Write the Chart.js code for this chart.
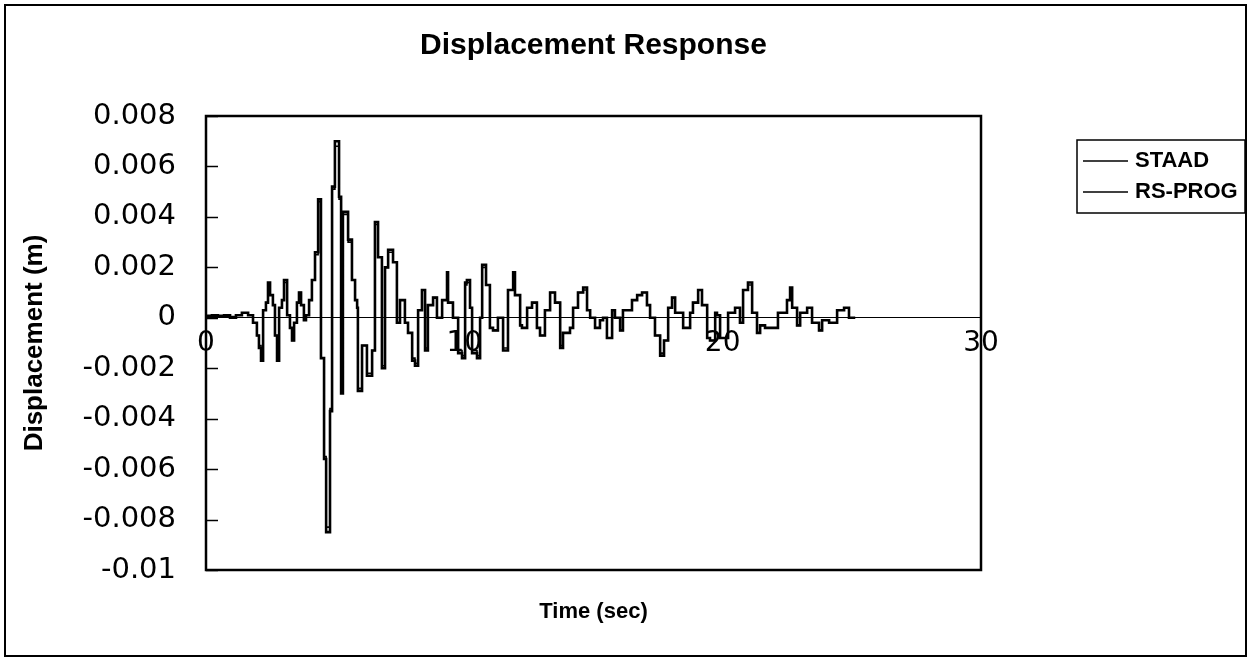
<!DOCTYPE html>
<html><head><meta charset="utf-8">
<script src="https://cdn.jsdelivr.net/npm/chart.js@4"></script>
<style>html,body{margin:0;padding:0;background:#fff;}canvas{display:block;}</style>
</head><body>
<canvas id="c" width="1252" height="661"></canvas>
<script>
const chartTitle = 'Displacement Response';
const xAxisTitle = 'Time (sec)';
const yAxisTitle = 'Displacement (m)';
const seriesNames = ['STAAD', 'RS-PROG'];
const xTickLabels = ['0', '10', '20', '30'];
const yTickLabels = ['-0.01', '-0.008', '-0.006', '-0.004', '-0.002', '0', '0.002', '0.004', '0.006', '0.008'];

const timeSec = [
  0.04,0.23,0.46,0.70,0.93,1.16,1.39,1.63,1.82,1.97,
  2.05,2.13,2.21,2.32,2.40,2.48,2.59,2.67,2.75,2.83,
  2.94,3.02,3.14,3.25,3.33,3.41,3.52,3.60,3.68,3.79,
  3.87,3.99,4.10,4.22,4.34,4.45,4.57,4.65,4.80,4.88,
  4.99,5.15,5.23,5.30,5.50,5.65,5.77,5.85,5.88,6.04,
  6.23,6.43,6.54,6.66,6.81,6.93,7.05,7.24,7.39,7.51,
  7.70,7.82,7.98,8.09,8.21,8.36,8.48,8.59,8.79,8.94,
  9.14,9.33,9.37,9.56,9.76,9.91,10.03,10.10,10.22,10.30,
  10.49,10.61,10.69,10.84,10.99,11.11,11.30,11.50,11.69,11.89,
  11.96,12.16,12.23,12.43,12.62,12.81,12.93,13.12,13.32,13.51,
  13.71,13.82,14.09,14.21,14.40,14.60,14.75,14.87,15.06,15.25,
  15.37,15.52,15.72,15.83,16.03,16.14,16.49,16.69,16.88,17.07,
  17.19,17.38,17.58,17.73,17.89,18.04,18.16,18.47,18.74,18.85,
  19.05,19.20,19.40,19.51,19.71,19.78,19.90,20.21,20.48,20.67,
  20.79,20.98,21.14,21.33,21.45,21.64,21.91,22.14,22.49,22.61,
  22.69,22.88,23.00,23.27,23.46,23.73,23.85,24.12,24.43,24.70,
  24.89,25.13
];

const staad = [
  0.0001,0.00005,0.0001,0.00005,0.0001,0,0.0001,0.0002,0.0001,-0.0002,
  -0.0007,-0.0012,-0.0017,0.0003,0.0006,0.0014,0.0009,0.0005,-0.0007,-0.0017,
  0.0004,0.0007,0.0015,0.0001,-0.0004,-0.0009,-0.0002,0.0006,0.001,0.0005,
  -0.0001,0.0001,0.0007,0.0015,0.0026,0.0047,-0.0016,-0.0056,-0.0085,-0.0037,
  0.0052,0.007,0.0048,-0.003,0.0042,0.0031,0.0015,0.0007,0.0004,-0.0029,
  -0.0011,-0.0023,-0.0013,0.0038,0.0024,-0.002,0.002,0.0027,0.0022,-0.0002,
  0.0007,-0.0002,-0.0006,-0.0017,-0.0019,0.0003,0.0011,-0.0013,0.0005,0.0008,
  0,0.0007,0.0018,0.0006,0,-0.0014,-0.0016,0.0014,0.0015,0.0004,
  -0.0014,-0.0016,0,0.0021,0.0013,-0.0004,-0.0005,0,-0.0013,0.0011,
  0.0018,0.0009,-0.0003,-0.0004,0.0004,0.0006,-0.0004,-0.0007,0.0003,0.001,
  0.0006,-0.0012,-0.0006,-0.0004,0.0004,0.001,0.0012,0.0003,0,-0.0004,
  -0.0001,0,-0.0008,0.0003,0,-0.0005,0.0003,0.0007,0.0009,0.001,
  0.0005,0,-0.0007,-0.0015,-0.0009,0.0004,0.0008,0.0002,-0.0004,0.0002,
  0.0006,0.0011,0.0005,-0.0008,-0.0009,0.0002,0.0001,-0.0008,0.0002,0.0004,
  -0.0002,0.0011,0.0014,0.0002,-0.0006,-0.0003,-0.0004,-0.0004,0.0002,0.0007,
  0.0012,0.0004,-0.0003,0.0002,0.0004,-0.0002,-0.0005,-0.0001,-0.0002,0.0003,
  0.0004,0
];

const rsProg = [
  0.0001,0.0001,0.00005,0.0001,0.00005,0.00005,0.0001,0.0002,0.0001,-0.0002,
  -0.0007,-0.0011,-0.0016,0.0003,0.0006,0.0013,0.0009,0.0005,-0.0007,-0.0016,
  0.0004,0.0007,0.0014,0.0001,-0.0004,-0.0009,-0.0002,0.0006,0.001,0.0005,
  -0.0001,0.0001,0.0007,0.0015,0.0025,0.0046,-0.0016,-0.0055,-0.0083,-0.0036,
  0.0051,0.0068,0.0047,-0.0029,0.0041,0.003,0.0015,0.0007,0.0004,-0.0028,
  -0.0011,-0.0022,-0.0013,0.0037,0.0024,-0.0019,0.002,0.0026,0.0022,-0.0002,
  0.0007,-0.0002,-0.0006,-0.0016,-0.0018,0.0003,0.0011,-0.0012,0.0005,0.0008,
  0,0.0007,0.0017,0.0006,0,-0.0013,-0.0015,0.0013,0.0014,0.0004,
  -0.0013,-0.0015,0,0.002,0.0013,-0.0004,-0.0005,0,-0.0012,0.0011,
  0.0017,0.0009,-0.0003,-0.0004,0.0004,0.0006,-0.0004,-0.0007,0.0003,0.001,
  0.0006,-0.0011,-0.0006,-0.0004,0.0004,0.001,0.0011,0.0003,0,-0.0004,
  -0.0001,0,-0.0008,0.0003,0,-0.0005,0.0003,0.0007,0.0009,0.001,
  0.0005,0,-0.0007,-0.0014,-0.0009,0.0004,0.0008,0.0002,-0.0004,0.0002,
  0.0006,0.0011,0.0005,-0.0008,-0.0009,0.0002,0.0001,-0.0008,0.0002,0.0004,
  -0.0002,0.0011,0.0013,0.0002,-0.0006,-0.0003,-0.0004,-0.0004,0.0002,0.0007,
  0.0011,0.0004,-0.0003,0.0002,0.0004,-0.0002,-0.0005,-0.0001,-0.0002,0.0003,
  0.0004,0
];

const FONT = "'Liberation Sans', Arial, Helvetica, sans-serif";
const TICKFONT = "'DejaVu Sans', Verdana, sans-serif";

const framePlugin = {
  id: 'frame',
  afterDraw(chart) {
    const ctx = chart.ctx;
    const a = chart.chartArea;
    const ys = chart.scales.y;
    ctx.save();
    ctx.strokeStyle = '#000';
    ctx.lineWidth = 2;
    ctx.strokeRect(5, 5, 1241, 651);
    ctx.lineWidth = 2.5;
    ctx.strokeRect(a.left, a.top, a.right - a.left, a.bottom - a.top);
    ctx.lineWidth = 1.5;
    ys.ticks.forEach(t => {
      const py = Math.round(ys.getPixelForValue(t.value)) + 0.5;
      ctx.beginPath();
      ctx.moveTo(a.left, py);
      ctx.lineTo(a.left + 12, py);
      ctx.stroke();
    });
    const lx = 1077, ly = 140, lw = 168, lh = 73;
    ctx.lineWidth = 1.5;
    ctx.strokeRect(lx, ly, lw, lh);
    ctx.font = 'bold 22px ' + FONT;
    ctx.textBaseline = 'middle';
    ctx.textAlign = 'left';
    ctx.fillStyle = '#000';
    chart.data.datasets.forEach((ds, i) => {
      const y = ly + 21 + i * 31;
      ctx.lineWidth = 1.5;
      ctx.beginPath();
      ctx.moveTo(lx + 6, y);
      ctx.lineTo(lx + 51, y);
      ctx.stroke();
      ctx.fillText(ds.label, lx + 58, y);
    });
    ctx.restore();
  }
};

const toPoints = (xs, ys) => xs.map((x, i) => ({ x: x, y: ys[i] }));

new Chart(document.getElementById('c'), {
  type: 'scatter',
  data: {
    datasets: [
      { label: seriesNames[0], data: toPoints(timeSec, staad), showLine: true, stepped: 'after',
        borderColor: '#000', backgroundColor: '#000', borderWidth: 2.6, pointRadius: 0, xAxisID: 'x', yAxisID: 'y' },
      { label: seriesNames[1], data: toPoints(timeSec, rsProg), showLine: true, stepped: 'after',
        borderColor: '#000', backgroundColor: '#000', borderWidth: 1.6, pointRadius: 0, xAxisID: 'x', yAxisID: 'y' }
    ]
  },
  options: {
    responsive: false,
    animation: false,
    devicePixelRatio: 1,
    layout: { padding: { left: 0, right: 271, top: 0, bottom: 0 } },
    plugins: {
      legend: { display: false },
      tooltip: { enabled: false },
      title: {
        display: true, text: chartTitle, fullSize: false, color: '#000',
        font: { family: FONT, size: 30, weight: 'bold' },
        padding: { top: 28, bottom: 52 }
      }
    },
    scales: {
      x: {
        type: 'linear', position: 'bottom', min: 0, max: 30,
        grid: { display: false, drawTicks: false },
        border: { display: false },
        ticks: { display: false },
        title: { display: true, text: xAxisTitle, color: '#000',
          font: { family: FONT, size: 22, weight: 'bold' }, padding: { top: 0, bottom: 36 } },
        afterFit: s => { s.height = 91; }
      },
      xz: {
        type: 'linear', position: { y: 0 }, min: 0, max: 30,
        grid: { display: false, drawTicks: false },
        border: { display: true, color: '#000', width: 1 },
        ticks: { stepSize: 10, color: '#000', padding: 9, maxRotation: 0,
          font: { family: TICKFONT, size: 28 },
          callback: v => xTickLabels[Math.round(v / 10)] }
      },
      y: {
        type: 'linear', position: 'left', min: -0.01, max: 0.008,
        grid: { display: false, drawTicks: false },
        border: { display: false },
        ticks: { stepSize: 0.002, color: '#000', padding: 30,
          font: { family: TICKFONT, size: 29 },
          callback: v => yTickLabels[Math.round((v + 0.01) / 0.002)] },
        title: { display: true, text: yAxisTitle, color: '#000',
          font: { family: FONT, size: 26, weight: 'bold' }, padding: { top: 19, bottom: 0 } },
        afterFit: s => { s.width = 206; }
      }
    }
  },
  plugins: [framePlugin]
});
</script>
</body></html>
